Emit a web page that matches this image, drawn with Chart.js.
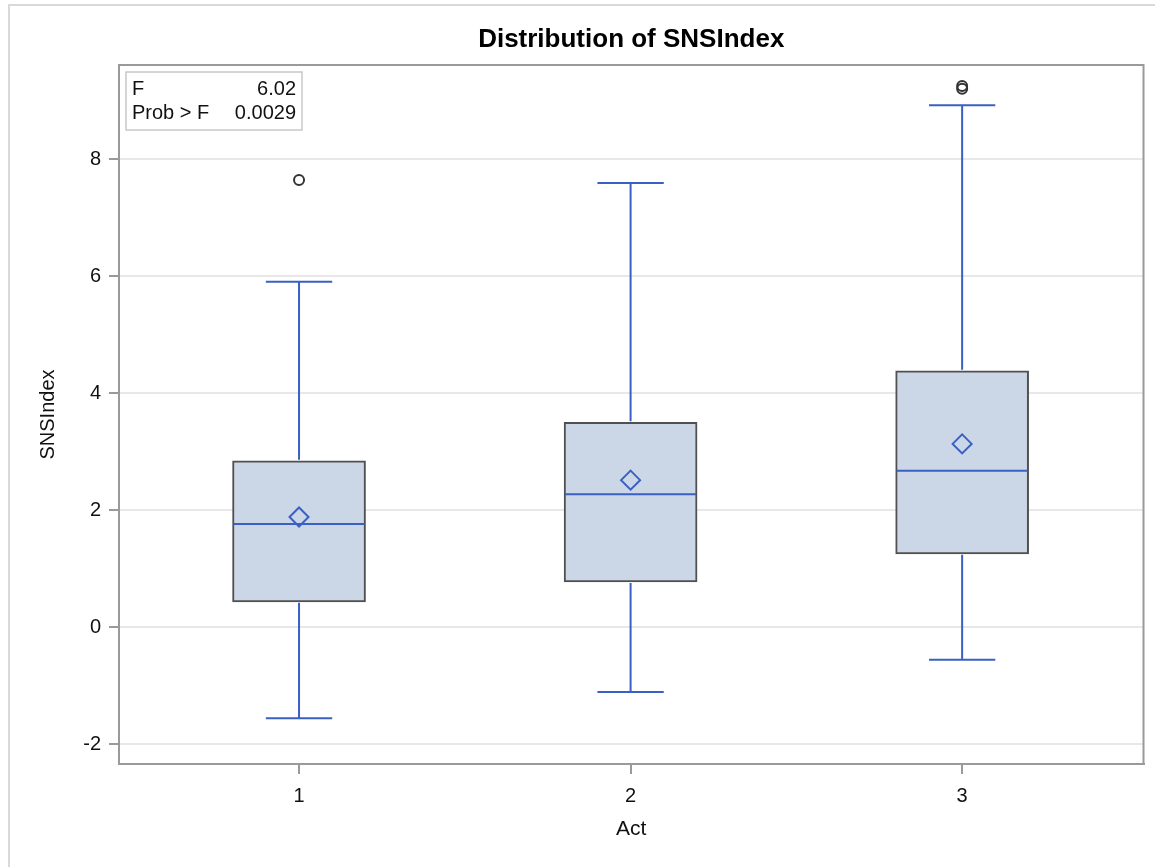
<!DOCTYPE html>
<html>
<head>
<meta charset="utf-8">
<script src="https://cdn.jsdelivr.net/npm/chart.js@4.4.1/dist/chart.umd.min.js"></script>
<style>
  html, body { margin: 0; padding: 0; background: #fff; }
  #wrap { position: relative; width: 1155px; height: 867px; }
  #frame { position: absolute; left: 8px; top: 4px; right: 0; bottom: 0; border-left: 2px solid #d9d9d9; border-top: 2px solid #d9d9d9; }
  canvas { position: absolute; left: 0; top: 0; }
</style>
</head>
<body>
<div id="wrap">
  <div id="frame"></div>
  <canvas id="boxChart" width="1155" height="867"></canvas>
</div>
<script>
// data
const categories = [1, 2, 3];
const q1 = [0.43, 0.77, 1.25];
const q3 = [2.84, 3.50, 4.38];
const medians = [1.76, 2.27, 2.67];
const means = [1.88, 2.51, 3.13];
const whiskerLow = [-1.56, -1.11, -0.56];
const whiskerHigh = [5.90, 7.59, 8.92];
const outlierCat = [1, 3, 3];
const outlierVal = [7.64, 9.25, 9.20];
const yTickVals = [-2, 0, 2, 4, 6, 8];
const statLabels = ['F', 'Prob > F'];
const statValues = ['6.02', '0.0029'];

const BLUE = '#3b60c4';
const FONT = '"Liberation Sans", Arial, sans-serif';
const capHalf = 0.1; // half width of whisker caps, in x units

const boxPlot = {
    id: 'boxPlot',
    // whiskers and medians right after the boxes, so markers sit on top
    afterDatasetDraw(chart, args) {
        if (args.index !== 0) return;
        const { ctx, scales: { x, y } } = chart;
        const bars = chart.getDatasetMeta(0).data;
        ctx.save();
        ctx.strokeStyle = BLUE;
        ctx.lineWidth = 2;
        categories.forEach((c, i) => {
            const cx = x.getPixelForValue(c);
            const capL = x.getPixelForValue(c - capHalf);
            const capR = x.getPixelForValue(c + capHalf);
            const yHi = y.getPixelForValue(whiskerHigh[i]);
            const yLo = y.getPixelForValue(whiskerLow[i]);
            const half = bars[i].width / 2 - 1;
            const yMed = y.getPixelForValue(medians[i]);
            ctx.beginPath();
            ctx.moveTo(cx, y.getPixelForValue(q3[i]) - 1); ctx.lineTo(cx, yHi);
            ctx.moveTo(capL, yHi); ctx.lineTo(capR, yHi);
            ctx.moveTo(cx, y.getPixelForValue(q1[i]) + 1); ctx.lineTo(cx, yLo);
            ctx.moveTo(capL, yLo); ctx.lineTo(capR, yLo);
            ctx.moveTo(cx - half, yMed); ctx.lineTo(cx + half, yMed);
            ctx.stroke();
        });
        ctx.restore();
    },
    afterDraw(chart) {
        const { ctx, chartArea: a } = chart;
        ctx.save();
        // plot frame
        ctx.strokeStyle = '#9a9a9a';
        ctx.lineWidth = 2;
        ctx.strokeRect(a.left, a.top, a.right - a.left, a.bottom - a.top);
        // title
        ctx.fillStyle = '#000';
        ctx.font = 'bold 26px ' + FONT;
        ctx.textAlign = 'center';
        ctx.textBaseline = 'middle';
        ctx.fillText('Distribution of SNSIndex', (a.left + a.right) / 2, 40);
        // inset stats table
        const bx = a.left + 7, by = a.top + 7, bw = 176, bh = 58;
        ctx.fillStyle = '#fff';
        ctx.fillRect(bx, by, bw, bh);
        ctx.strokeStyle = '#c8c8c8';
        ctx.lineWidth = 1.5;
        ctx.strokeRect(bx, by, bw, bh);
        ctx.fillStyle = '#111';
        ctx.font = '20px ' + FONT;
        statLabels.forEach((lab, i) => {
            const ty = by + 17 + i * 24;
            ctx.textAlign = 'left';
            ctx.fillText(lab, bx + 6, ty);
            ctx.textAlign = 'right';
            ctx.fillText(statValues[i], bx + bw - 6, ty);
        });
        ctx.restore();
    }
};

const ctx = document.getElementById('boxChart').getContext('2d');
new Chart(ctx, {
    type: 'bar',
    data: {
        datasets: [
            {
                type: 'bar',
                data: categories.map((c, i) => ({ x: c, y: [q1[i], q3[i]] })),
                backgroundColor: '#cbd6e6',
                borderColor: '#505050',
                borderWidth: 2,
                borderSkipped: false,
                barThickness: 133,
                order: 3
            },
            {
                type: 'scatter',
                data: categories.map((c, i) => ({ x: c, y: means[i] })),
                pointStyle: 'rectRot',
                radius: 9.5,
                borderColor: BLUE,
                borderWidth: 2,
                backgroundColor: 'rgba(0,0,0,0)',
                order: 1
            },
            {
                type: 'scatter',
                data: outlierCat.map((c, i) => ({ x: c, y: outlierVal[i] })),
                pointStyle: 'circle',
                radius: 5,
                borderColor: '#333',
                borderWidth: 2,
                backgroundColor: 'rgba(0,0,0,0)',
                order: 1
            }
        ]
    },
    options: {
        responsive: false,
        animation: false,
        events: [],
        layout: { padding: { top: 65, right: 10, left: 0, bottom: 0 } },
        plugins: { legend: { display: false }, tooltip: { enabled: false }, title: { display: false } },
        scales: {
            x: {
                type: 'linear',
                offset: false,
                min: 0.457, max: 3.547,
                afterBuildTicks: (scale) => { scale.ticks = categories.map(v => ({ value: v })); },
                afterFit: (scale) => { scale.height = 103; },
                grid: { offset: false, drawOnChartArea: false, tickLength: 10, tickColor: '#9a9a9a', lineWidth: 2 },
                border: { color: '#9a9a9a', width: 2 },
                ticks: { color: '#111', font: { family: FONT, size: 20 }, padding: 10 },
                title: { display: true, text: 'Act', color: '#111', font: { family: FONT, size: 21 }, padding: { top: 0, bottom: 25 } }
            },
            y: {
                min: -2.342, max: 9.607,
                afterBuildTicks: (scale) => { scale.ticks = yTickVals.map(v => ({ value: v })); },
                afterFit: (scale) => { scale.width = 119; },
                grid: { color: '#e8e8e8', lineWidth: 2, tickLength: 10, tickColor: '#9a9a9a' },
                border: { color: '#9a9a9a', width: 2 },
                ticks: { color: '#111', font: { family: FONT, size: 20 }, padding: 8 },
                title: { display: true, text: 'SNSIndex', color: '#111', font: { family: FONT, size: 20 }, padding: { top: 36, bottom: 0 } }
            }
        }
    },
    plugins: [boxPlot]
});
</script>
</body>
</html>
